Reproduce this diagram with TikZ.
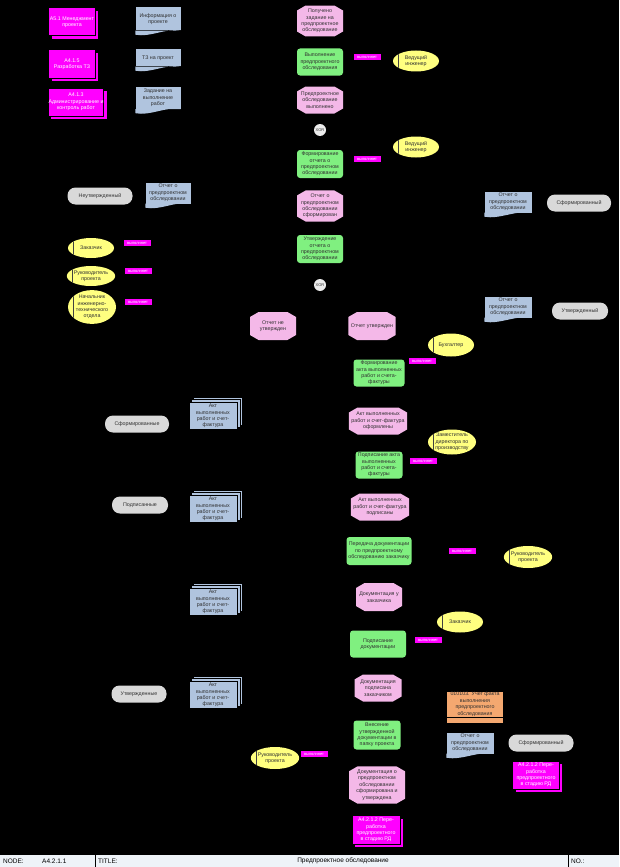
\documentclass[tikz,border=0pt]{standalone}
\usepackage{fontspec}
\setmainfont{Liberation Sans}
\usepackage{xcolor}
\definecolor{cEvent}{HTML}{F4B8E8}
\definecolor{cFunc}{HTML}{80F080}
\definecolor{cDoc}{HTML}{B0C4DE}
\definecolor{cOrg}{HTML}{FFFF80}
\definecolor{cState}{HTML}{D9D9D9}
\definecolor{cIface}{HTML}{FF00FF}
\definecolor{cUnit}{HTML}{F4A870}
\definecolor{cBar}{HTML}{EEF3F8}
\definecolor{cText}{HTML}{303030}
\usepackage{tikz}
\usetikzlibrary{shapes.geometric,shapes.misc,backgrounds}
\pgfdeclarelayer{canvas}
\pgfsetlayers{canvas,background,main}
\tikzset{
  base/.style={inner sep=0pt,align=center,text=cText,
    font=\fontsize{5.3}{6.4}\selectfont},
  node-event/.style={base,chamfered rectangle,chamfered rectangle xsep=2.5pt,
    chamfered rectangle angle=60,fill=cEvent,minimum width=46pt,minimum height=27pt},
  node-func/.style={base,rectangle,rounded corners=3pt,fill=cFunc,
    minimum width=46pt,minimum height=27pt},
  node-doc/.style={base,rectangle,fill=cDoc,minimum width=45pt,minimum height=21pt},
  node-mdoc/.style={base,rectangle,fill=cDoc,draw=black,line width=0.6pt,
    minimum width=48pt,minimum height=27pt},
  node-org/.style={base,ellipse,fill=cOrg,minimum width=46pt,minimum height=21pt,
    path picture={\draw[black!75,line width=0.6pt]
      ([xshift=5pt]path picture bounding box.north west) --
      ([xshift=5pt]path picture bounding box.south west);}},
  node-state/.style={base,rectangle,rounded corners=8pt,fill=cState,
    minimum width=64pt,minimum height=17pt},
  node-iface/.style={base,rectangle,fill=cIface,text=white,
    minimum width=46pt,minimum height=27pt},
  node-unit/.style={base,rectangle,fill=cUnit,minimum width=56pt,minimum height=25pt},
  node-xor/.style={base,circle,fill=cState!50,minimum size=12pt,
    font=\fontsize{4}{5}\selectfont},
  node-role/.style={base,rectangle,fill=cIface,text=white,minimum width=27pt,
    minimum height=6pt,font=\fontsize{4}{4.5}\selectfont},
  node-bar/.style={inner sep=0pt,anchor=west,font=\fontsize{6.5}{7}\selectfont},
}
\newcommand{\docwave}[1]{\fill[cDoc] (#1.south west) -- ++(0,4)
  .. controls +(15,3) and +(-15,-3) .. (#1.south east) -- cycle;}
\newcommand{\mdocstack}[1]{\begin{pgfonlayer}{background}
  \filldraw[cDoc,draw=black,line width=0.6pt]
    ([xshift=5pt,yshift=5pt]#1.south west) rectangle ([xshift=5pt,yshift=5pt]#1.north east);
  \filldraw[cDoc,draw=black,line width=0.6pt]
    ([xshift=2.5pt,yshift=2.5pt]#1.south west) rectangle ([xshift=2.5pt,yshift=2.5pt]#1.north east);
  \end{pgfonlayer}}
\newcommand{\ifshadow}[1]{\begin{pgfonlayer}{background}
  \fill[cIface] ([xshift=3pt,yshift=-3pt]#1.south west) rectangle ([xshift=3pt,yshift=-3pt]#1.north east);
  \fill[black] ([xshift=0.8pt,yshift=-0.8pt]#1.south west) rectangle ([xshift=0.8pt,yshift=-0.8pt]#1.north east);
  \end{pgfonlayer}}

\begin{document}
\begin{tikzpicture}[x=1pt,y=-1pt]
  \begin{pgfonlayer}{canvas}
    \fill[black] (0,0) rectangle (619,867);
  \end{pgfonlayer}
  \useasboundingbox (0,0) rectangle (619,867);

  % interfaces and input documents
  \node[node-iface,minimum width=46pt] (if-pm) at (72,22) {А5.1 Менеджмент\\проекта};
  \node[node-iface] (if-tz) at (72,64) {А4.1.5\\Разработка ТЗ};
  \node[node-iface,minimum width=54pt] (if-ctl) at (76,102) {А4.1.3\\Администрирование и\\контроль работ};
  \ifshadow{if-pm}\ifshadow{if-tz}\ifshadow{if-ctl}
  \node[node-doc,minimum height=23pt] (doc-info) at (158,19) {Информация о\\проекте};
  \node[node-doc,minimum height=17pt] (doc-tz) at (158,58) {ТЗ на проект};
  \node[node-doc,minimum height=22pt] (doc-task) at (158,98) {Задание на\\выполнение\\работ};
  \docwave{doc-info}\docwave{doc-tz}\docwave{doc-task}

  % main chain
  \node[node-event] (ev-start) at (320,21) {Получено\\задание на\\предпроектное\\обследование};
  \node[node-func] (fn-exec) at (320,62) {Выполнение\\предпроектного\\обследования};
  \node[node-role] (r-1) at (367,57) {выполняет};
  \node[node-org] (org-lead1) at (416,61) {Ведущий\\инженер};
  \node[node-event] (ev-done) at (320,100) {Предпроектное\\обследование\\выполнено};
  \node[node-xor] (xor-1) at (320,130) {XOR};
  \node[node-org] (org-lead2) at (416,147) {Ведущий\\инженер};
  \node[node-func,minimum height=28pt] (fn-form) at (320,164) {Формирование\\отчета о\\предпроектном\\обследовании};
  \node[node-role] (r-2) at (367,159) {выполняет};
  \node[node-event,minimum height=28pt] (ev-formed) at (320,206) {Отчет о\\предпроектном\\обследовании\\сформирован};
  \node[node-func,minimum height=28pt] (fn-appr) at (320,249) {Утверждение\\отчета о\\предпроектном\\обследовании};
  \node[node-xor] (xor-2) at (320,285) {XOR};

  % approval participants
  \node[node-state,minimum width=65pt] (st-unappr) at (100,196) {Неутвержденный};
  \node[node-doc] (doc-rep1) at (168,193) {Отчет о\\предпроектном\\обследовании};
  \node[node-org,minimum height=20pt] (org-cust1) at (91,248) {Заказчик};
  \node[node-role] (r-3) at (137,243) {выполняет};
  \node[node-org,minimum width=47pt,minimum height=20pt] (org-pm1) at (91,276) {Руководитель\\проекта};
  \node[node-role] (r-4) at (138,271) {выполняет};
  \node[node-org,minimum width=48pt,minimum height=27pt] (org-head) at (92,307) {Начальник\\инженерно-\\технического\\отдела};
  \node[node-role] (r-5) at (138,302) {выполняет};
  \node[node-doc,minimum width=47pt] (doc-rep2) at (508,202) {Отчет о\\предпроектном\\обследовании};
  \node[node-state] (st-formed1) at (579,203) {Сформированный};
  \node[node-doc,minimum width=47pt] (doc-rep3) at (508,307) {Отчет о\\предпроектном\\обследовании};
  \node[node-state,minimum width=56pt] (st-appr) at (580,311) {Утвержденный};
  \docwave{doc-rep1}\docwave{doc-rep2}\docwave{doc-rep3}

  % branches after XOR
  \node[node-event,minimum height=28pt] (ev-notappr) at (273,326) {Отчет не\\утвержден};
  \node[node-event,minimum width=47pt,minimum height=28pt] (ev-appr) at (372,326) {Отчет утвержден};
  \node[node-org,minimum height=23pt] (org-acc) at (451,345) {Бухгалтер};
  \node[node-role] (r-6) at (422,361) {выполняет};
  \node[node-func,minimum width=51pt] (fn-act) at (379,373) {Формирование\\акта выполненных\\работ и счета-\\фактуры};
  \node[node-event,minimum width=56pt] (ev-act) at (378,421) {Акт выполненных\\работ и счет-фактура\\оформлены};
  \node[node-org,minimum width=48pt,minimum height=25pt] (org-dep) at (452,442) {Заместитель\\директора по\\производству};
  \node[node-role] (r-7) at (423,461) {выполняет};
  \node[node-func,minimum width=47pt] (fn-sign) at (379,465) {Подписание акта\\выполненных\\работ и счета-\\фактуры};
  \node[node-event,minimum width=52pt] (ev-signed) at (380,507) {Акт выполненных\\работ и счет-фактура\\подписаны};
  \node[node-func,minimum width=65pt,minimum height=28pt] (fn-transfer) at (379,551) {Передача документации\\по предпроектному\\обследованию заказчику};
  \node[node-role] (r-8) at (462,551) {выполняет};
  \node[node-org,minimum width=44pt,minimum height=22pt] (org-pm2) at (528,557) {Руководитель\\проекта};
  \node[node-event,minimum height=28pt] (ev-atcust) at (379,597) {Документация у\\заказчика};
  \node[node-org] (org-cust2) at (460,622) {Заказчик};
  \node[node-role] (r-9) at (428,640) {выполняет};
  \node[node-func,minimum width=56pt] (fn-signdoc) at (378,644) {Подписание\\документации};
  \node[node-event,minimum width=47pt] (ev-signcust) at (378,688) {Документация\\подписана\\заказчиком};
  \node[node-unit] (unit-fact) at (475,704) {010103. Учет факта\\выполнения\\предпроектного\\обследования};
  \fill[cUnit] ([yshift=-1.5pt]unit-fact.south west) rectangle ([yshift=-6pt]unit-fact.south east);
  \node[node-func,minimum width=47pt,minimum height=29pt] (fn-store) at (377,735) {Внесение\\утвержденной\\документации в\\папку проекта};
  \node[node-doc,minimum width=47pt] (doc-rep4) at (470,743) {Отчет о\\предпроектном\\обследовании};
  \docwave{doc-rep4}
  \node[node-state,minimum width=65pt] (st-formed2) at (541,743) {Сформированный};
  \node[node-org,minimum height=22pt] (org-pm3) at (275,758) {Руководитель\\проекта};
  \node[node-role] (r-10) at (314,754) {выполняет};
  \node[node-event,minimum width=56pt,minimum height=33pt] (ev-final) at (377,785) {Документация о\\предпроектном\\обследовании\\сформирована и\\утверждена};
  \node[node-iface] (if-next1) at (536,775) {А4.2.1.2 Пере-\\работка\\предпроектного\\в стадию РД};
  \node[node-iface,minimum width=47pt,minimum height=28pt] (if-next2) at (376,830) {А4.2.1.2 Пере-\\работка\\предпроектного\\в стадию РД};
  \ifshadow{if-next1}\ifshadow{if-next2}

  % act documents
  \node[node-state] (st-formedp) at (137,424) {Сформированные};
  \node[node-mdoc] (mdoc-1) at (213,416) {Акт\\выполненных\\работ и счет-\\фактура};
  \node[node-state,minimum width=56pt] (st-signed) at (140,505) {Подписанные};
  \node[node-mdoc] (mdoc-2) at (213,509) {Акт\\выполненных\\работ и счет-\\фактура};
  \node[node-mdoc] (mdoc-3) at (213,602) {Акт\\выполненных\\работ и счет-\\фактура};
  \node[node-state,minimum width=55pt] (st-apprp) at (139,694) {Утвержденные};
  \node[node-mdoc] (mdoc-4) at (213,695) {Акт\\выполненных\\работ и счет-\\фактура};
  \mdocstack{mdoc-1}\mdocstack{mdoc-2}\mdocstack{mdoc-3}\mdocstack{mdoc-4}

  % title bar
  \fill[cBar] (0,855) rectangle (619,867);
  \draw[black,line width=0.8pt] (95,855) -- (95,867) (568,855) -- (568,867);
  \node[node-bar] (bar-node) at (3,861) {NODE:};
  \node[node-bar] (bar-id) at (42,861) {A4.2.1.1};
  \node[node-bar] (bar-title) at (98,861) {TITLE:};
  \node[node-bar,anchor=center] (bar-name) at (343,861) {Предпроектное обследование};
  \node[node-bar] (bar-no) at (571,861) {NO.:};
\end{tikzpicture}
\end{document}
